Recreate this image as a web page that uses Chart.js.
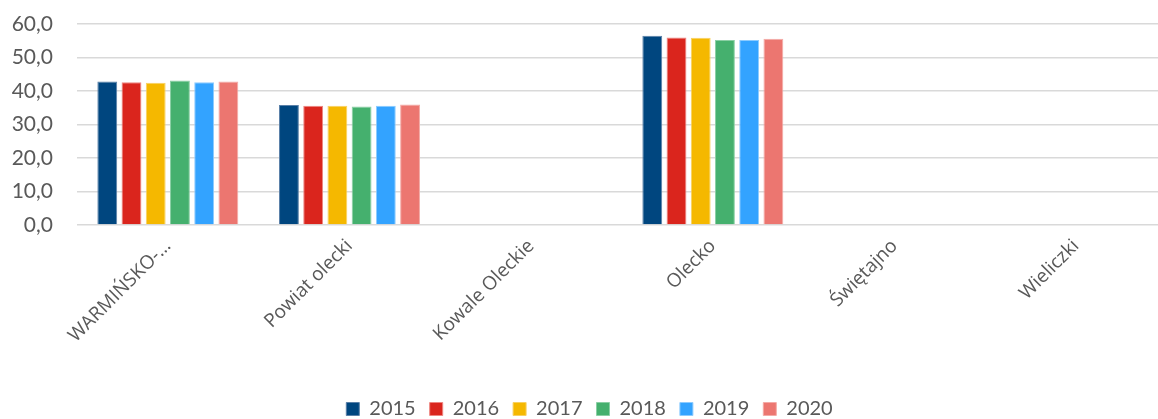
<!DOCTYPE html>
<html>
<head>
<meta charset="utf-8">
<script src="https://cdn.jsdelivr.net/npm/chart.js@4.4.0/dist/chart.umd.min.js"></script>
<style>
  html, body { margin: 0; padding: 0; background: #fff; overflow: hidden; }
  #wrap { width: 1170px; height: 419px; }
</style>
</head>
<body>
<div id="wrap"><canvas id="chart"></canvas></div>
<script>
// categories and yearly values (null = no data)
const categories = ['WARMIŃSKO-…', 'Powiat olecki', 'Kowale Oleckie', 'Olecko', 'Świętajno', 'Wieliczki'];
const years = ['2015', '2016', '2017', '2018', '2019', '2020'];
const values2015 = [42.8, 35.8, null, 56.5, null, null];
const values2016 = [42.6, 35.6, null, 56.0, null, null];
const values2017 = [42.5, 35.6, null, 55.9, null, null];
const values2018 = [43.1, 35.4, null, 55.2, null, null];
const values2019 = [42.6, 35.6, null, 55.2, null, null];
const values2020 = [42.8, 36.0, null, 55.6, null, null];
const yTicks = [0, 10, 20, 30, 40, 50, 60];

const colors = ['#00467F', '#DA251D', '#F5B800', '#45B06E', '#33A3FF', '#EC7670'];
const borders = ['#5A80A8', '#EE8580', '#F8D060', '#8ACFA4', '#8CCBFF', '#F4AAA6'];
const allValues = [values2015, values2016, values2017, values2018, values2019, values2020];

const datasets = years.map((y, i) => ({
    label: y,
    data: allValues[i],
    backgroundColor: colors[i],
    borderColor: borders[i],
    borderWidth: 1,
    categoryPercentage: 0.8,
    barPercentage: 0.82
}));

const ctx = document.getElementById('chart').getContext('2d');
new Chart(ctx, {
    type: 'bar',
    data: { labels: categories, datasets: datasets },
    options: {
        responsive: true,
        maintainAspectRatio: false,
        animation: false,
        layout: { padding: { left: 12, right: 3, top: 24, bottom: -10 } },
        plugins: {
            tooltip: { enabled: false },
            legend: {
                position: 'bottom',
                labels: {
                    boxWidth: 13,
                    boxHeight: 13,
                    padding: 14,
                    color: '#595959',
                    font: { family: 'Lato', size: 20 }
                }
            }
        },
        scales: {
            x: {
                grid: { display: false },
                border: { display: false },
                afterFit: axis => {
                    axis.height = 160;
                    axis.paddingLeft = 0;
                    axis.paddingRight = 0;
                },
                ticks: {
                    color: '#595959',
                    font: { family: "'Open Sans'", size: 19 },
                    minRotation: 45,
                    maxRotation: 45,
                    padding: 2
                }
            },
            y: {
                min: 0,
                max: 60,
                afterBuildTicks: axis => { axis.ticks = yTicks.map(v => ({ value: v })); },
                afterFit: axis => {
                    axis.width = 65;
                    axis.paddingTop = 0;
                    axis.paddingBottom = 0;
                },
                grid: { color: '#D9D9D9', lineWidth: 1.5, drawTicks: false },
                border: { display: false },
                ticks: {
                    color: '#595959',
                    font: { family: 'Lato', size: 21 },
                    padding: 24,
                    callback: v => v.toFixed(1).replace('.', ',')
                }
            }
        }
    }
});
</script>
</body>
</html>
